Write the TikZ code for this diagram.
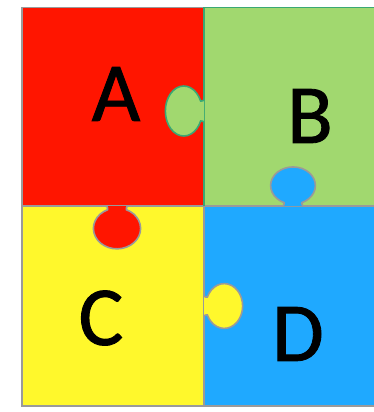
\documentclass[tikz,border=0pt]{standalone}
\usepackage{fontspec}
\setmainfont{Carlito}
\newfontfamily\letterfont[FakeBold=1]{Carlito}
\definecolor{pRed}{HTML}{FF1500}
\definecolor{pGreen}{HTML}{A1D86F}
\definecolor{pYellow}{HTML}{FFF82C}
\definecolor{pBlue}{HTML}{1FA9FF}
\definecolor{edgeGray}{HTML}{9A9A9A}
\definecolor{edgeGreen}{HTML}{3AA874}
\tikzset{
  edge/.style={line width=1.6pt, draw=edgeGray},
  gedge/.style={line width=1.6pt, draw=edgeGreen},
  letter/.style={inner sep=0pt, anchor=center, font=\letterfont\fontsize{84}{84}\selectfont}
}
\newcommand{\knobpath}{(-13,0) .. controls (-8,0) .. (-8,3.67) arc[start angle=246.4, end angle=-66.4, radius=20] .. controls (8,0) .. (13,0)}
\begin{document}
\begin{tikzpicture}[x=1pt,y=-1pt]
\useasboundingbox (0,0) rectangle (374,412);
% piece fills
\fill[pRed] (22,7.5) rectangle (204,206);
\fill[pGreen] (204,7.5) rectangle (380,206);
\fill[pYellow] (22,206) rectangle (204,406);
\fill[pBlue] (204,206) rectangle (380,406);
% outer borders
\draw[edge] (380,406) -- (22,406) -- (22,7.5) -- (204,7.5);
\draw[gedge] (204,7.5) -- (380,7.5);
% dividers
\draw[edge] (22,206) -- (380,206);
\draw[gedge] (204,7.5) -- (204,206);
\draw[edge] (204,206) -- (204,406);
% green knob (B into A)
\begin{scope}[shift={(204,111)}, cm={0,-1.25,0.92,0,(0,0)}]
  \fill[pGreen] \knobpath -- cycle;
  \draw[gedge] \knobpath;
\end{scope}
% blue knob (D into B)
\begin{scope}[shift={(293,206)}, xscale=1.12, yscale=-0.93]
  \fill[pBlue] \knobpath -- cycle;
  \draw[edge] \knobpath;
\end{scope}
% red knob (A into C)
\begin{scope}[shift={(117,206)}, xscale=1.18, yscale=1.02]
  \fill[pRed] \knobpath -- cycle;
  \draw[edge] \knobpath;
\end{scope}
% yellow knob (C into D)
\begin{scope}[shift={(204,306)}, cm={0,-1.12,-0.92,0,(0,0)}]
  \fill[pYellow] \knobpath -- cycle;
  \draw[edge] \knobpath;
\end{scope}
% letters
\node[letter] (A) at (116,94) {A};
\node[letter] (B) at (310,116) {B};
\node[letter] (C) at (101,318) {C};
\node[letter] (D) at (298,334) {D};
\end{tikzpicture}
\end{document}
